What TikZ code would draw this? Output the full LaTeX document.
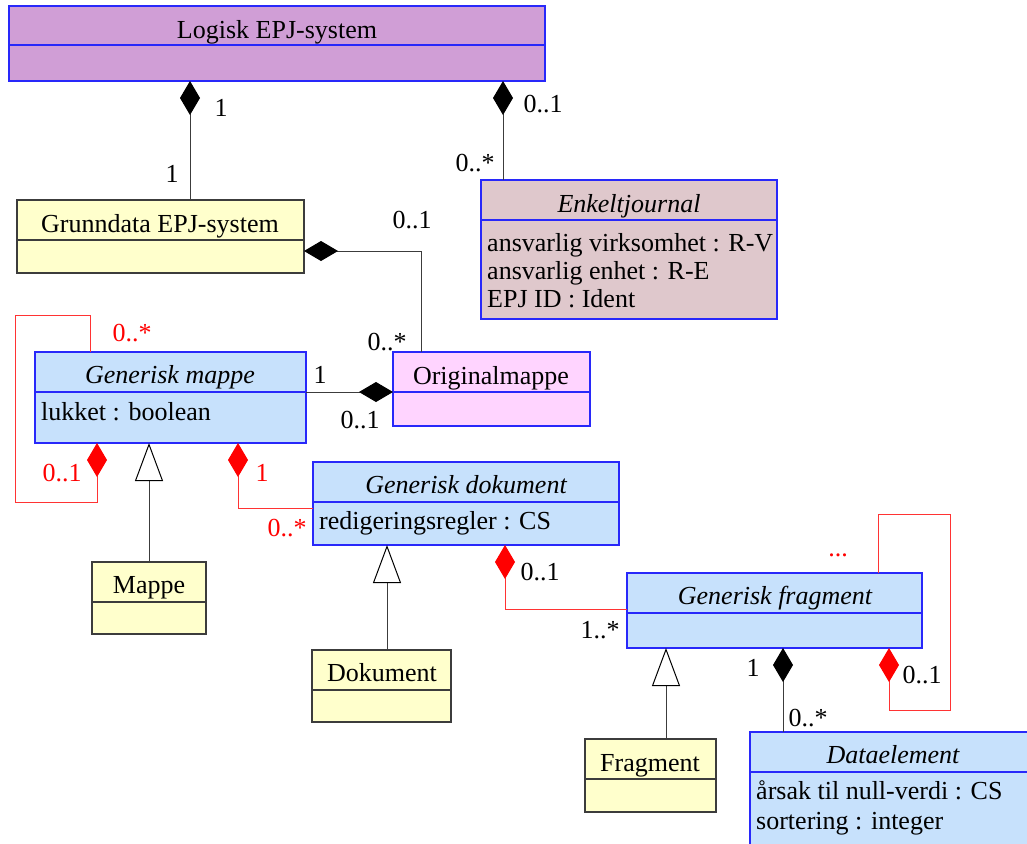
\documentclass[tikz,border=0pt]{standalone}
\usepackage{fontspec}
\setmainfont{Liberation Serif}
\usetikzlibrary{arrows.meta}

\definecolor{umlblue}{RGB}{40,40,250}
\definecolor{umlgrey}{RGB}{60,60,60}
\definecolor{fillpurple}{RGB}{208,158,214}
\definecolor{fillrose}{RGB}{223,200,204}
\definecolor{fillblue}{RGB}{199,225,252}
\definecolor{fillpink}{RGB}{255,212,255}
\definecolor{fillyellow}{RGB}{255,255,204}
\definecolor{umlred}{RGB}{255,0,0}

\tikzset{
  every node/.style={font=\fontsize{26}{28}\selectfont},
  classbox/.style={draw=umlblue, line width=1.3pt, inner sep=0pt, outer sep=0pt, anchor=north west},
  plainbox/.style={draw=umlgrey, line width=1.3pt, inner sep=0pt, outer sep=0pt, anchor=north west, fill=fillyellow},
  bluediv/.style={draw=umlblue, line width=1.3pt},
  greydiv/.style={draw=umlgrey, line width=1.1pt},
  title/.style={anchor=base, inner sep=0pt},
  attr/.style={anchor=base west, inner sep=0pt},
  mult/.style={inner sep=0pt},
  redmult/.style={inner sep=0pt, text=umlred},
  assoc/.style={draw=umlgrey, line width=1pt},
  redassoc/.style={draw=umlred!80, line width=1pt},
  comp/.tip={Diamond[length=34pt, width=20pt, color=black, fill=black]},
  redcomp/.tip={Diamond[length=34pt, width=20pt, color=umlred, fill=umlred]},
  gen/.tip={Triangle[open, length=38pt, width=28pt, color=black, fill=white, line width=1pt]},
}

\begin{document}
\begin{tikzpicture}[x=1pt, y=-1pt]
\clip (0,0) rectangle (1027,843);
\fill[white] (0,0) rectangle (1027,843);

% ---- classes ----
\node[classbox, fill=fillpurple, minimum width=536pt, minimum height=75pt] (logisk) at (9,6) {};
\draw[bluediv] (logisk.west |- 0,45) -- (logisk.east |- 0,45);
\node[title] (logiskT) at (277,38) {Logisk EPJ-system};

\node[plainbox, minimum width=287pt, minimum height=73pt] (grund) at (17,200) {};
\draw[greydiv] (grund.west |- 0,240) -- (grund.east |- 0,240);
\node[title] (grundT) at (160,232) {Grunndata EPJ-system};

\node[classbox, fill=fillrose, minimum width=296pt, minimum height=139pt] (enkel) at (481,180) {};
\draw[bluediv] (enkel.west |- 0,220) -- (enkel.east |- 0,220);
\node[title] (enkelT) at (629,212) {\itshape Enkeltjournal};
\node[attr] (enkelA) at (487,251) {ansvarlig virksomhet : R-V};
\node[attr] (enkelB) at (487,279) {ansvarlig enhet : R-E};
\node[attr] (enkelC) at (487,307) {EPJ ID : Ident};

\node[classbox, fill=fillblue, minimum width=271pt, minimum height=91pt] (gmappe) at (35,352) {};
\draw[bluediv] (gmappe.west |- 0,392) -- (gmappe.east |- 0,392);
\node[title] (gmappeT) at (170,383) {\itshape Generisk mappe};
\node[attr] (gmappeA) at (41,420) {lukket : boolean};

\node[classbox, fill=fillpink, minimum width=197pt, minimum height=74pt] (orig) at (393,352) {};
\draw[bluediv] (orig.west |- 0,392) -- (orig.east |- 0,392);
\node[title] (origT) at (491,384) {Originalmappe};

\node[classbox, fill=fillblue, minimum width=306pt, minimum height=83pt] (gdok) at (313,462) {};
\draw[bluediv] (gdok.west |- 0,502) -- (gdok.east |- 0,502);
\node[title] (gdokT) at (466,493) {\itshape Generisk dokument};
\node[attr] (gdokA) at (319,529) {redigeringsregler : CS};

\node[plainbox, minimum width=114pt, minimum height=72pt] (mappe) at (92,562) {};
\draw[greydiv] (mappe.west |- 0,602) -- (mappe.east |- 0,602);
\node[title] (mappeT) at (149,593) {Mappe};

\node[plainbox, minimum width=139pt, minimum height=72pt] (dok) at (312,650) {};
\draw[greydiv] (dok.west |- 0,690) -- (dok.east |- 0,690);
\node[title] (dokT) at (382,681) {Dokument};

\node[classbox, fill=fillblue, minimum width=295pt, minimum height=75pt] (gfrag) at (627,573) {};
\draw[bluediv] (gfrag.west |- 0,613) -- (gfrag.east |- 0,613);
\node[title] (gfragT) at (775,604) {\itshape Generisk fragment};

\node[plainbox, minimum width=131pt, minimum height=73pt] (frag) at (585,739) {};
\draw[greydiv] (frag.west |- 0,779) -- (frag.east |- 0,779);
\node[title] (fragT) at (650,771) {Fragment};

\node[classbox, fill=fillblue, minimum width=300pt, minimum height=140pt] (data) at (750,732) {};
\draw[bluediv] (data.west |- 0,772) -- (data.east |- 0,772);
\node[title] (dataT) at (893,763) {\itshape Dataelement};
\node[attr] (dataA) at (756,799) {årsak til null-verdi : CS};
\node[attr] (dataB) at (756,829) {sortering : integer};

% ---- black compositions ----
\draw[assoc, comp-] (logisk.south -| 190,0) -- (grund.north -| 190,0);
\draw[assoc, comp-] (logisk.south -| 503,0) -- (enkel.north -| 503,0);
\draw[assoc, comp-] (grund.east |- 0,251) -| (orig.north -| 421,0);
\draw[assoc, -comp] (gmappe.east |- 0,392) -- (orig.west |- 0,392);
\draw[assoc, comp-] (gfrag.south -| 783,0) -- (data.north -| 783,0);

% ---- red compositions ----
\draw[redassoc, -redcomp] (gmappe.north -| 90,0) -- (90,315) -- (15,315) -- (15,502) -- (97,502) -- (gmappe.south -| 97,0);
\draw[redassoc, redcomp-] (gmappe.south -| 238,0) |- (gdok.west |- 0,508);
\draw[redassoc, redcomp-] (gdok.south -| 505,0) |- (gfrag.west |- 0,609);
\draw[redassoc, -redcomp] (gfrag.north -| 878,0) -- (878,514) -- (950,514) -- (950,710) -- (889,710) -- (gfrag.south -| 889,0);

% ---- generalisations ----
\draw[assoc, -gen] (mappe.north -| 149,0) -- (gmappe.south -| 149,0);
\draw[assoc, -gen] (dok.north -| 387,0) -- (gdok.south -| 387,0);
\draw[assoc, -gen] (frag.north -| 666,0) -- (gfrag.south -| 666,0);

% ---- multiplicities ----
\node[mult] (m1) at (221,108) {1};
\node[mult] (m2) at (172,174) {1};
\node[mult] (m3) at (543,104) {0..1};
\node[mult] (m4) at (475,163) {0..*};
\node[mult] (m5) at (412,220) {0..1};
\node[mult] (m6) at (387,342) {0..*};
\node[mult] (m7) at (320,375) {1};
\node[mult] (m8) at (360,420) {0..1};
\node[mult] (m9) at (540,572) {0..1};
\node[mult] (m10) at (600,630) {1..*};
\node[mult] (m11) at (922,675) {0..1};
\node[mult] (m12) at (753,668) {1};
\node[mult] (m13) at (808,718) {0..*};
\node[redmult] (r1) at (132,333) {0..*};
\node[redmult] (r2) at (62,473) {0..1};
\node[redmult] (r3) at (262,473) {1};
\node[redmult] (r4) at (287,528) {0..*};
\node[redmult] (r5) at (838,555) {...};
\end{tikzpicture}
\end{document}
